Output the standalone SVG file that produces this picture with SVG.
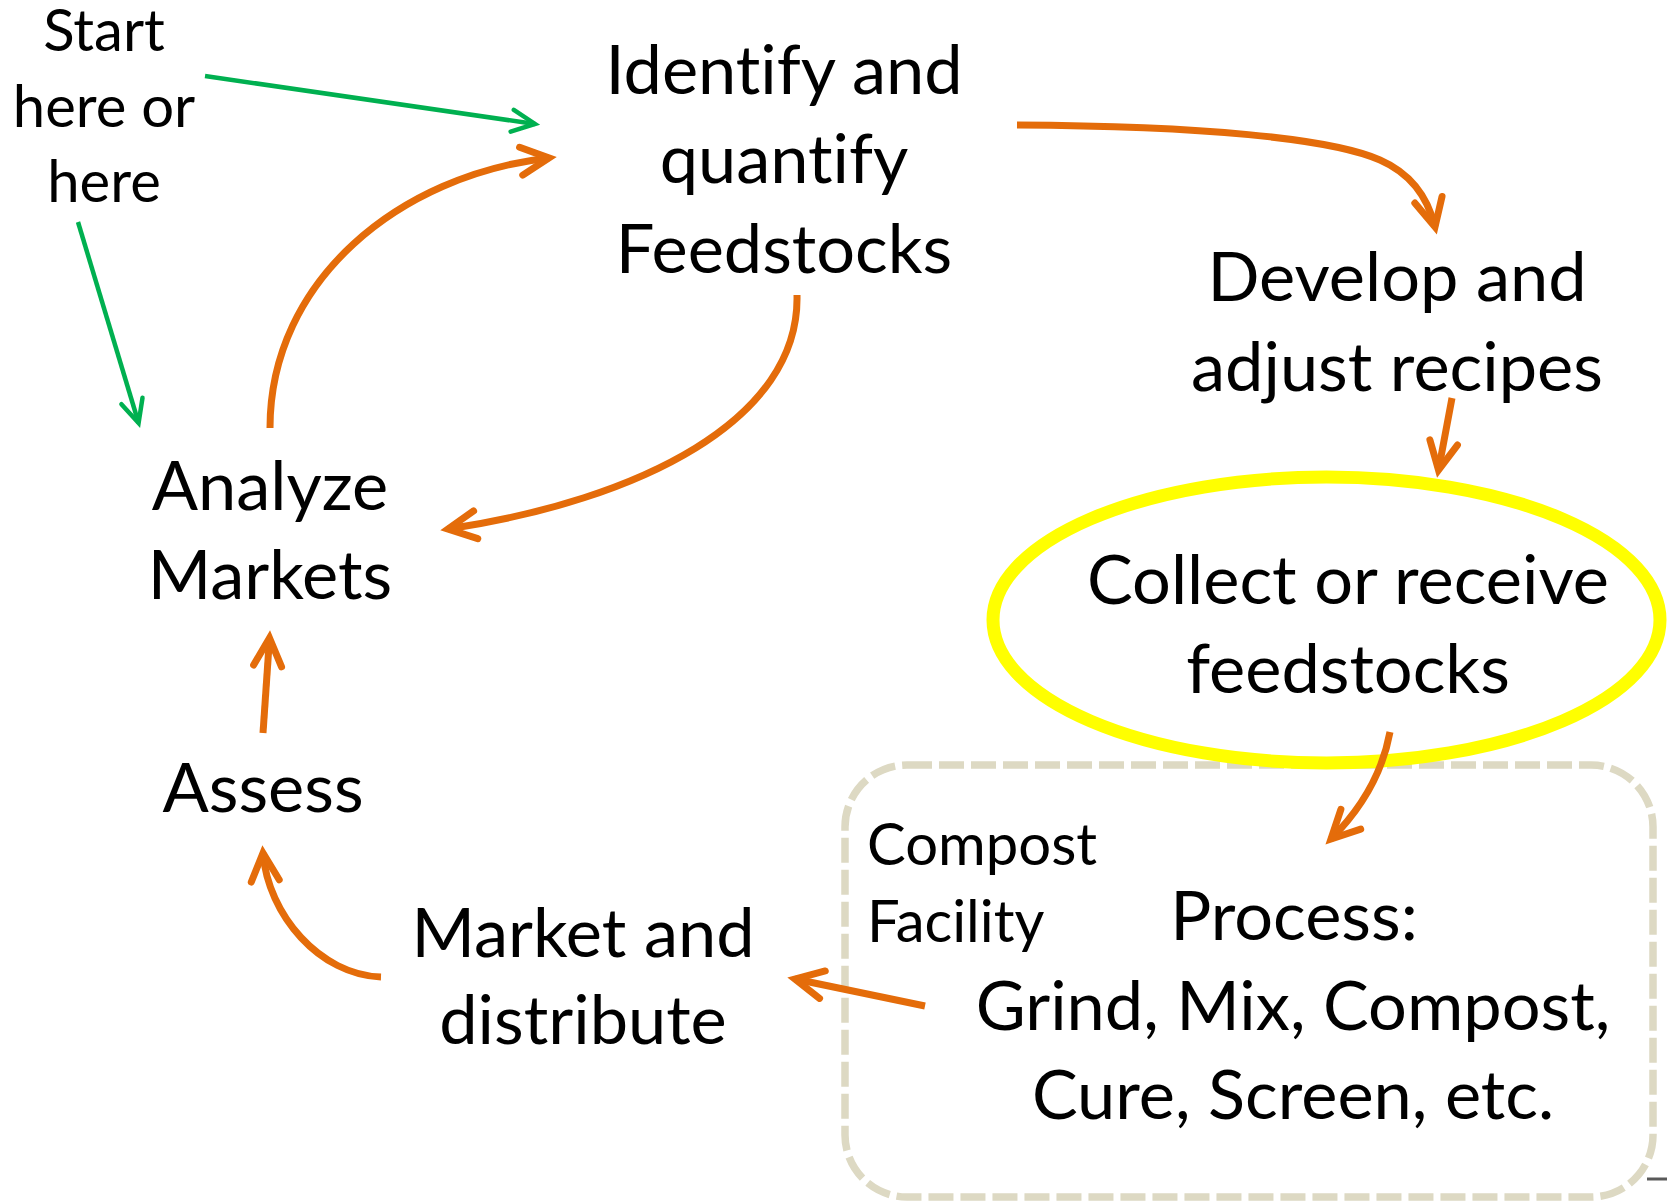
<svg xmlns="http://www.w3.org/2000/svg" width="1667" height="1204" viewBox="0 0 1667 1204">
  <style>
    .t { font-family: Lato, "Liberation Sans", sans-serif; fill: #000; font-variant-ligatures: none; }
    .lg { font-size: 68.5px; text-anchor: middle; }
    .sm { font-size: 58px; }
    .mid { text-anchor: middle; }
    .or { fill: none; stroke: #E46C0A; stroke-width: 7; }
    .gr { fill: none; stroke: #00B050; stroke-width: 4.5; }
  </style>
  <defs>
    <marker id="headOrange" markerUnits="userSpaceOnUse" orient="auto" markerWidth="1" markerHeight="1" overflow="visible">
      <path d="M-28,-14 L0,0 L-28,14" fill="none" stroke="#E46C0A" stroke-width="7" stroke-linecap="round" stroke-linejoin="miter"/>
    </marker>
    <marker id="headGreen" markerUnits="userSpaceOnUse" orient="auto" markerWidth="1" markerHeight="1" overflow="visible">
      <path d="M-23,-11 L0,0 L-23,11" fill="none" stroke="#00B050" stroke-width="4.5" stroke-linecap="round" stroke-linejoin="miter"/>
    </marker>
  </defs>
  <rect width="1667" height="1204" fill="#fff"/>

  <!-- compost facility boundary -->
  <g id="facility">
    <rect x="845" y="765" width="808" height="432" rx="62" fill="none" stroke="#DDD9C3" stroke-width="7.5" stroke-dasharray="25 7"/>
    <text class="t sm" x="867" y="865">Compost</text>
    <text class="t sm" x="867" y="942">Facility</text>
  </g>

  <g id="start">
    <text class="t sm mid" x="104" y="51">Start</text>
    <text class="t sm mid" x="104" y="127">here or</text>
    <text class="t sm mid" x="104" y="202">here</text>
  </g>

  <g id="identify">
    <text class="t lg" x="784" y="94">Identify and</text>
    <text class="t lg" x="784" y="183">quantify</text>
    <text class="t lg" x="784" y="273">Feedstocks</text>
  </g>

  <g id="develop">
    <text class="t lg" x="1397" y="301">Develop and</text>
    <text class="t lg" x="1397" y="391">adjust recipes</text>
  </g>

  <g id="collect">
    <ellipse cx="1326.5" cy="620" rx="333.5" ry="143" fill="none" stroke="#FFFF00" stroke-width="13"/>
    <text class="t lg" x="1348" y="604">Collect or receive</text>
    <text class="t lg" x="1348" y="693">feedstocks</text>
  </g>

  <g id="process">
    <text class="t lg" x="1294" y="940">Process:</text>
    <text class="t lg" x="1293" y="1030">Grind, Mix, Compost,</text>
    <text class="t lg" x="1293" y="1119">Cure, Screen, etc.</text>
  </g>

  <g id="market">
    <text class="t lg" x="583" y="957">Market and</text>
    <text class="t lg" x="583" y="1044">distribute</text>
  </g>

  <g id="assess">
    <text class="t lg" x="263" y="812">Assess</text>
  </g>

  <g id="analyze">
    <text class="t lg" x="270" y="510">Analyze</text>
    <text class="t lg" x="270" y="599">Markets</text>
  </g>

  <g id="connectors">
    <path class="gr" d="M205,76 L535,124" marker-end="url(#headGreen)"/>
    <path class="gr" d="M78,222 L138.6,423" marker-end="url(#headGreen)"/>
    <path class="or" d="M270,428 C270,280 400,175 549,158" marker-end="url(#headOrange)"/>
    <path class="or" d="M1017,125 C1200,126 1330,138 1380,160 C1412,174 1428,198 1435,227" marker-end="url(#headOrange)"/>
    <path class="or" d="M797,295 C800,420 640,500 448,529" marker-end="url(#headOrange)"/>
    <path class="or" d="M1452,398 L1438.5,470" marker-end="url(#headOrange)"/>
    <path class="or" d="M1390,732 C1382,775 1360,810 1331,839" marker-end="url(#headOrange)"/>
    <path class="or" d="M925,1006 L795,979" marker-end="url(#headOrange)"/>
    <path class="or" d="M381,977 C320,975 268,915 263,853" marker-end="url(#headOrange)"/>
    <path class="or" d="M263,733 L269.5,638" marker-end="url(#headOrange)"/>
  </g>

  <line x1="1647" y1="1179" x2="1667" y2="1179" stroke="#595959" stroke-width="3"/>
</svg>
